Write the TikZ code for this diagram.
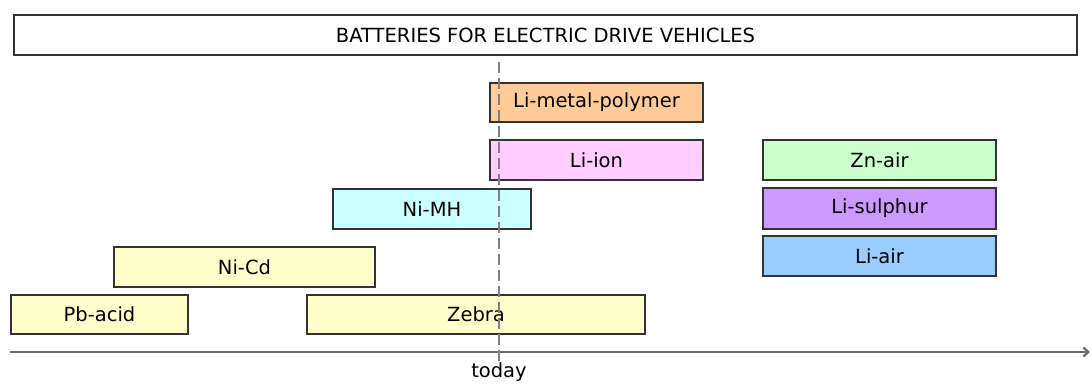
\documentclass[tikz,border=0pt]{standalone}
\usepackage{fontspec}
\setmainfont{DejaVu Sans}
\usetikzlibrary{arrows.meta}
\definecolor{cOrange}{HTML}{FFCC99}
\definecolor{cPink}{HTML}{FFCCFF}
\definecolor{cCyan}{HTML}{CCFFFF}
\definecolor{cYellow}{HTML}{FFFFCC}
\definecolor{cGreen}{HTML}{CCFFCC}
\definecolor{cPurple}{HTML}{CC99FF}
\definecolor{cBlue}{HTML}{99CCFF}
\definecolor{cEdge}{HTML}{333333}
\tikzset{
  lbl/.style={font=\fontsize{19.5}{22}\selectfont},
  bat/.style={draw=cEdge, line width=1.2pt, inner sep=0pt, lbl},
}
\begin{document}
\begin{tikzpicture}[x=1pt,y=-1pt]
\useasboundingbox (0,0) rectangle (1092,385);
% title
\node[bat, fill=white, minimum width=1063pt, minimum height=40pt] (title) at (545.5,35) {BATTERIES FOR ELECTRIC DRIVE VEHICLES};
% boxes
\node[bat, fill=cOrange, minimum width=213pt, minimum height=39pt] (lmp) at (596.5,102.5) {Li-metal-polymer};
\node[bat, fill=cPink, minimum width=213pt, minimum height=40pt] (liion) at (596.5,160) {Li-ion};
\node[bat, fill=cCyan, minimum width=198pt, minimum height=40pt] (nimh) at (432,209) {Ni-MH};
\node[bat, fill=cYellow, minimum width=261pt, minimum height=40pt] (nicd) at (244.5,267) {Ni-Cd};
\node[bat, fill=cYellow, minimum width=177pt, minimum height=39pt] (pb) at (99.5,314.5) {Pb-acid};
\node[bat, fill=cYellow, minimum width=338pt, minimum height=39pt] (zebra) at (476,314.5) {Zebra};
\node[bat, fill=cGreen, minimum width=233pt, minimum height=40pt] (zn) at (879.5,160) {Zn-air};
\node[bat, fill=cPurple, minimum width=233pt, minimum height=41pt] (lis) at (879.5,208.5) {Li-sulphur};
\node[bat, fill=cBlue, minimum width=233pt, minimum height=40pt] (liair) at (879.5,256) {Li-air};
% axis
\coordinate (axL) at (10,352);
\coordinate (axR) at (1090,352);
\draw[gray!85!black, line width=2.2pt, -{Straight Barb[length=5pt,width=9pt]}] (axL) -- (axR);
% today line
\coordinate (tTop) at (499,62);
\coordinate (tBot) at (499,362);
\draw[gray, line width=1.6pt, dash pattern=on 11pt off 5pt] (tTop) -- (tBot);
\node[lbl, anchor=center] (today) at (499,372) {today};
\end{tikzpicture}
\end{document}
